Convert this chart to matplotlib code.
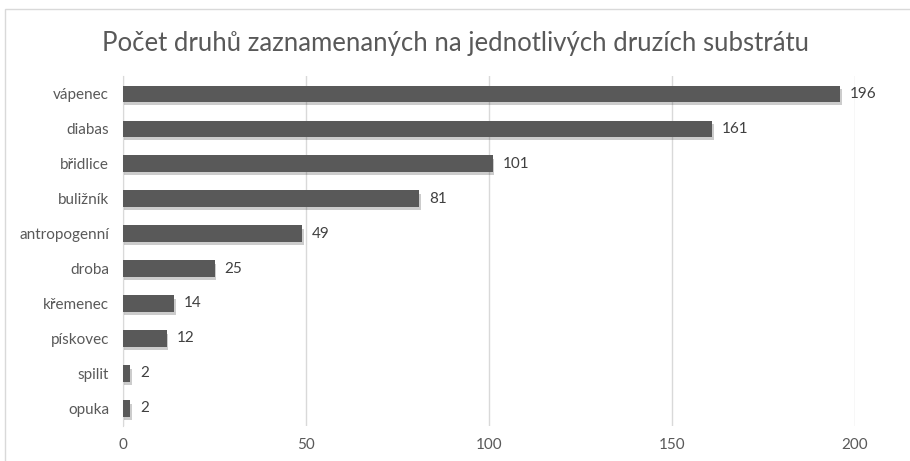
import matplotlib
matplotlib.use("Agg")
import matplotlib.pyplot as plt
import matplotlib.patheffects as pe
from matplotlib.patches import Rectangle

# === DATA ===
categories = ["vápenec", "diabas", "břidlice", "buližník", "antropogenní",
              "droba", "křemenec", "pískovec", "spilit", "opuka"]
values = [196, 161, 101, 81, 49, 25, 14, 12, 2, 2]
xticks = [0, 50, 100, 150, 200]

plt.rcParams['font.family'] = ['Lato', 'DejaVu Sans']

fig = plt.figure(figsize=(9.1, 4.61), dpi=100)
ax = fig.add_axes([0.1352, 0.076, 0.8044, 0.759])

# outer chart border
fig.patches.append(Rectangle((0.006, -0.01), 1.1, 0.99, transform=fig.transFigure,
                             fill=False, edgecolor='#d9d9d9', linewidth=1))

ypos = list(range(len(categories)))
bars = ax.barh(ypos, values, height=0.46, color='#595959', zorder=3,
               path_effects=[pe.SimplePatchShadow(offset=(1, -2.5), alpha=0.22),
                             pe.Normal()])
ax.set_ylim(len(categories) - 0.5, -0.5)
ax.set_xlim(0, 200)
ax.set_xticks(xticks)
ax.set_yticks(ypos)
ax.set_yticklabels(categories)

# value labels to the right of each bar
for b, v in zip(bars, values):
    ax.annotate(str(v), (b.get_width(), b.get_y() + b.get_height() / 2),
                xytext=(7, 0), textcoords='offset points', va='center',
                ha='left', fontsize=11, color='#404040')

ax.grid(axis='x', color='#d9d9d9', linewidth=1, zorder=0)
for s in ['top', 'right', 'bottom']:
    ax.spines[s].set_visible(False)
ax.spines['left'].set_color('#d9d9d9')
ax.tick_params(axis='both', length=0, labelsize=11, labelcolor='#595959')
ax.tick_params(axis='x', pad=9)
ax.tick_params(axis='y', pad=10)

fig.text(0.5, 0.905, "Počet druhů zaznamenaných na jednotlivých druzích substrátu",
         ha='center', va='center', fontsize=18.5, color='#595959')

fig.savefig("out.png", dpi=100, facecolor='white')
